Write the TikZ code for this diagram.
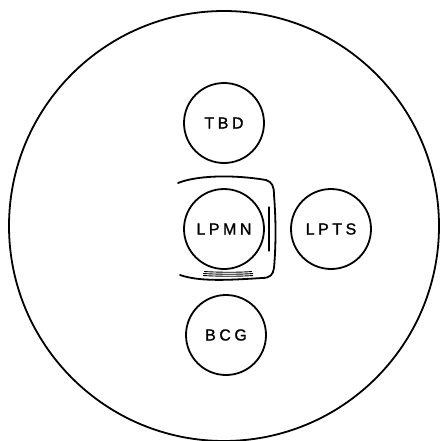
\documentclass[tikz,border=0pt]{standalone}
\usepackage{fontspec}
\newfontfamily\labfont[LetterSpace=22,FakeBold=1.2]{Liberation Sans}
\begin{document}
\begin{tikzpicture}[x=1pt,y=-1pt,
  disc/.style={circle,draw,line width=1.8pt,minimum size=80pt,inner sep=0pt,font=\labfont\fontsize{16}{16}\selectfont},
  rim/.style={line width=1.8pt,line cap=round,line join=round}]
\useasboundingbox (0,0) rectangle (441,441);
\node[circle,draw,line width=1.8pt,minimum size=430pt,inner sep=0pt] (dish) at (224,226) {};
\node[disc] (tbd) at (224,123) {TBD};
\node[disc] (lpmn) at (224,229) {LPMN};
\node[disc] (lpts) at (331,229) {LPTS};
\node[disc] (bcg) at (226,335) {BCG};
% holder around LPMN
\draw[rim] (178,183) .. controls (195,176) and (230,174) .. (266,180)
  .. controls (272,182) and (274,186) .. (274,195)
  .. controls (276,220) and (276,245) .. (274,268)
  .. controls (273,275) and (270,278) .. (262,278)
  .. controls (230,280) and (200,282) .. (180,275);
\draw[line width=1.3pt,line cap=round] (269,207) -- (269,251);
\draw[line width=0.9pt] (204,271.5) .. controls (220,272.5) and (240,272.5) .. (252,271.5);
\draw[line width=0.9pt] (203,273.5) .. controls (220,274.5) and (240,274.5) .. (253,273.5);
\draw[line width=0.9pt] (203,275.5) .. controls (220,276.5) and (240,276.5) .. (253,275.5);
\end{tikzpicture}
\end{document}
